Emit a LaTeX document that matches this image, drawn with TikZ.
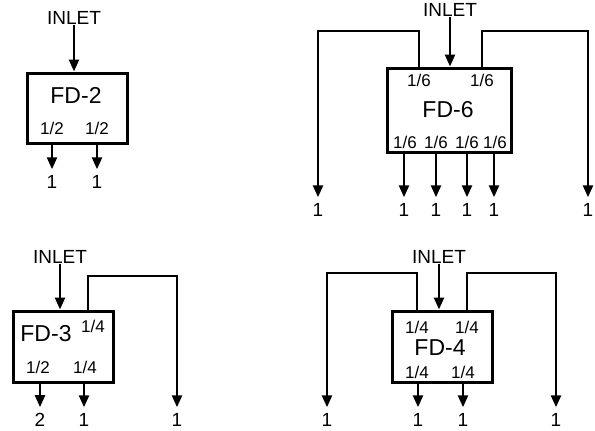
\documentclass[tikz,border=0pt]{standalone}
\usepackage{fontspec}
\setmainfont{Liberation Sans}
\usetikzlibrary{positioning,arrows.meta}

\tikzset{
  divbox/.style={draw, line width=3pt, inner sep=0pt},
  flow/.style={line width=2.5pt, -{Triangle[length=12pt,width=10pt]}, shorten >=6pt},
  feed/.style={line width=2.5pt, -{Triangle[length=12pt,width=10pt]}},
  lbl/.style={inner sep=0pt, font=\fontsize{19}{21}\selectfont},
  share/.style={inner sep=0pt, font=\fontsize{17}{19}\selectfont},
  boxname/.style={inner sep=0pt, font=\fontsize{23}{26}\selectfont},
}

\begin{document}
\begin{tikzpicture}[x=1pt,y=-1pt]
\useasboundingbox (0,0) rectangle (595,431);

% FD-2
\node[divbox, minimum width=100pt, minimum height=70pt] (fd2) at (77,108) {};
\node[boxname] (n2) at (76,95) {FD-2};
\node[lbl] (in2) at (74,18) {INLET};
\node[share] (f2a) at (52,128) {1/2};
\node[share] (f2b) at (97,128) {1/2};
\node[lbl] (o21) at (52,182) {1};
\node[lbl] (o22) at (97,182) {1};
\draw[feed] (in2.south) -- (in2.south |- fd2.north);
\draw[flow] (fd2.south -| o21) -- (o21.north);
\draw[flow] (fd2.south -| o22) -- (o22.north);

% FD-6
\node[divbox, minimum width=124pt, minimum height=84pt] (fd6) at (449,110) {};
\node[boxname] (n6) at (448,110) {FD-6};
\node[lbl] (in6) at (450,10) {INLET};
\node[share] (f6a) at (419,80) {1/6};
\node[share] (f6b) at (482,80) {1/6};
\node[share] (f6c) at (405,142) {1/6};
\node[share] (f6d) at (436,142) {1/6};
\node[share] (f6e) at (467,142) {1/6};
\node[share] (f6f) at (495,142) {1/6};
\node[lbl] (o61) at (318,210) {1};
\node[lbl] (o62) at (404,210) {1};
\node[lbl] (o63) at (436,210) {1};
\node[lbl] (o64) at (467,210) {1};
\node[lbl] (o65) at (494,210) {1};
\node[lbl] (o66) at (588,210) {1};
\coordinate (c61) at (318,31);
\coordinate (c62) at (588,31);
\draw[feed] (in6.south) -- (in6.south |- fd6.north);
\draw[flow] (fd6.north -| f6a) |- (c61) -- (o61.north);
\draw[flow] (fd6.north -| f6b) |- (c62) -- (o66.north);
\draw[flow] (fd6.south -| o62) -- (o62.north);
\draw[flow] (fd6.south -| o63) -- (o63.north);
\draw[flow] (fd6.south -| o64) -- (o64.north);
\draw[flow] (fd6.south -| o65) -- (o65.north);

% FD-3
\node[divbox, minimum width=100pt, minimum height=71pt] (fd3) at (63,346.5) {};
\node[boxname] (n3) at (46,334) {FD-3};
\node[lbl] (in3) at (60,257) {INLET};
\node[share] (f3a) at (93,326) {1/4};
\node[share] (f3b) at (38,367) {1/2};
\node[share] (f3c) at (85,367) {1/4};
\node[lbl] (o31) at (40,420) {2};
\node[lbl] (o32) at (84,420) {1};
\node[lbl] (o33) at (177,420) {1};
\coordinate (s31) at (88,311);
\coordinate (c31) at (177,276);
\draw[feed] (in3.south) -- (in3.south |- fd3.north);
\draw[flow] (s31) |- (c31) -- (o33.north);
\draw[flow] (fd3.south -| o31) -- (o31.north);
\draw[flow] (fd3.south -| o32) -- (o32.north);

% FD-4
\node[divbox, minimum width=100pt, minimum height=71pt] (fd4) at (442,346.5) {};
\node[boxname] (n4) at (440,348) {FD-4};
\node[lbl] (in4) at (439,257) {INLET};
\node[share] (f4a) at (417,327) {1/4};
\node[share] (f4b) at (467,327) {1/4};
\node[share] (f4c) at (417,372) {1/4};
\node[share] (f4d) at (463,372) {1/4};
\node[lbl] (o41) at (327,420) {1};
\node[lbl] (o42) at (418,420) {1};
\node[lbl] (o43) at (463,420) {1};
\node[lbl] (o44) at (556,420) {1};
\coordinate (c41) at (327,273);
\coordinate (c42) at (556,273);
\draw[feed] (in4.south) -- (in4.south |- fd4.north);
\draw[flow] (fd4.north -| f4a) |- (c41) -- (o41.north);
\draw[flow] (fd4.north -| f4b) |- (c42) -- (o44.north);
\draw[flow] (fd4.south -| o42) -- (o42.north);
\draw[flow] (fd4.south -| o43) -- (o43.north);
\end{tikzpicture}
\end{document}
